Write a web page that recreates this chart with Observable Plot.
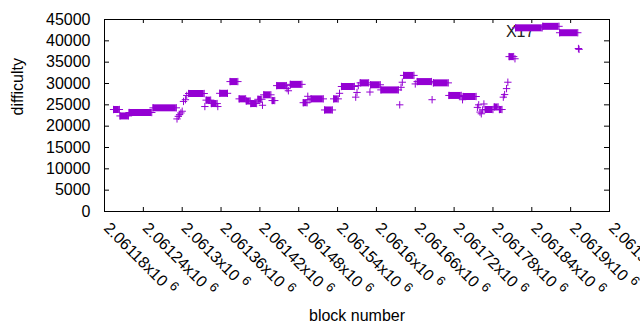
<!DOCTYPE html>
<html><head><meta charset="utf-8">
<script src="https://cdn.jsdelivr.net/npm/d3@7"></script>
<script src="https://cdn.jsdelivr.net/npm/@observablehq/plot@0.6"></script>
<style>
html,body{margin:0;padding:0;background:#fff;}
</style></head><body><div id="chart"></div>
<script>
// Runs of consecutive blocks with the same difficulty
const runStart = [2061194,2061204,2061218,2061255,2061310,2061337,2061345,2061358,2061374,2061388,2061399,2061406,2061417,2061426,2061439,2061446,2061467,2061487,2061499,2061520,2061534,2061546,2061575,2061591,2061607,2061642,2061663,2061688,2061712,2061734,2061768,2061782,2061790,2061805,2061815,2061857,2061883];
const runEnd   = [2061203,2061217,2061253,2061291,2061334,2061344,2061354,2061370,2061386,2061398,2061405,2061415,2061423,2061437,2061443,2061461,2061485,2061493,2061518,2061532,2061541,2061566,2061588,2061606,2061634,2061658,2061685,2061711,2061731,2061754,2061780,2061788,2061794,2061812,2061856,2061882,2061911];
const runDiff  = [23900,22400,23200,24300,27650,26100,25300,27700,30450,26400,25900,25300,26300,27350,26000,29500,29800,25500,26400,23800,26400,29300,30150,29700,28500,31900,30450,30150,27200,26950,23900,24500,23900,36300,43050,43400,41900];
// Single blocks
const ptBlock = [2061292,2061294,2061296,2061298,2061300,2061302,2061305,2061307,2061335,2061355,2061424,2061462,2061464,2061494,2061496,2061543,2061568,2061570,2061572,2061590,2061636,2061638,2061640,2061660,2061686,2061733,2061756,2061758,2061760,2061762,2061764,2061766,2061796,2061798,2061801,2061803,2061814,2061912,2061913];
const ptDiff  = [21700,22300,22700,23100,23500,25800,26200,27200,24600,24600,24900,28800,28300,27000,26200,27700,26800,27900,29500,28000,25000,29100,30300,29900,26200,26200,24400,25000,23300,22900,23800,25200,26800,27400,28800,30300,35800,38200,38000];
// Axes
const xTicks = [2061180,2061240,2061300,2061360,2061420,2061480,2061540,2061600,2061660,2061720,2061780,2061840,2061900,2061960];
const xTickLabels = ["2.06118x10^6","2.06124x10^6","2.0613x10^6","2.06136x10^6","2.06142x10^6","2.06148x10^6","2.06154x10^6","2.0616x10^6","2.06166x10^6","2.06172x10^6","2.06178x10^6","2.06184x10^6","2.0619x10^6","2.06196x10^6"];
const yTicks = [0,5000,10000,15000,20000,25000,30000,35000,40000,45000];
const yTickLabels = ["0","5000","10000","15000","20000","25000","30000","35000","40000","45000"];
const xTitle = "block number";
const yTitle = "difficulty";
const noteText = ["X17"];
const noteBlock = [2061800];
const noteDiff = [42000];

const color = "#9400d3";
const runs = runStart.map((s, i) => ({s, e: runEnd[i], d: runDiff[i]}));
const ends = runs.flatMap(r => [{b: r.s, d: r.d}, {b: r.e, d: r.d}]);
const pts = ptBlock.map((b, i) => ({b, d: ptDiff[i]}));
const notes = noteText.map((t, i) => ({t, b: noteBlock[i], d: noteDiff[i]}));

const innerW = 640 - 104 - 31, innerH = 330 - 19 - 119;

const svg = Plot.plot({
  width: 640, height: 330,
  marginLeft: 104, marginRight: 31, marginTop: 19, marginBottom: 119,
  x: {domain: [2061180, 2061960], axis: null},
  y: {domain: [0, 45000], axis: null},
  style: {fontFamily: "'Liberation Sans', Arial, sans-serif", fontSize: "16px", color: "black", background: "white", overflow: "hidden"},
  marks: [
    Plot.text(notes, {x: "b", y: "d", text: "t", textAnchor: "start", fill: "#222", fontSize: 16}),
    Plot.ruleY(runs, {x1: "s", x2: "e", y: "d", stroke: color, strokeWidth: 7}),
    Plot.dot(ends, {x: "b", y: "d", symbol: "plus", r: 2.5, stroke: color, strokeWidth: 1}),
    Plot.dot(pts, {x: "b", y: "d", symbol: "plus", r: 2.5, stroke: color, strokeWidth: 1}),
    Plot.frame({stroke: "black"}),
    Plot.ruleY(yTicks, {y: d => d, insetRight: innerW - 5, stroke: "black"}),
    Plot.ruleY(yTicks, {y: d => d, insetLeft: innerW - 5, stroke: "black"}),
    Plot.ruleX(xTicks, {x: d => d, insetTop: innerH - 4, stroke: "black"}),
    Plot.ruleX(xTicks, {x: d => d, insetBottom: innerH - 4, stroke: "black"}),
    Plot.text(yTicks, {y: d => d, text: (d, i) => yTickLabels[i], frameAnchor: "left", textAnchor: "end", dx: -14, fill: "black"}),
    Plot.text(xTicks, {x: d => d, text: (d, i) => xTickLabels[i], frameAnchor: "bottom", rotate: 45, textAnchor: "start", lineAnchor: "middle", dx: 2, dy: 14, fill: "black"}),
    Plot.text([yTitle], {text: d => d, frameAnchor: "left", rotate: -90, lineAnchor: "middle", dx: -87, fill: "black"}),
    Plot.text([xTitle], {text: d => d, frameAnchor: "bottom", lineAnchor: "middle", dy: 104, fill: "black"})
  ]
});

d3.select(svg).selectAll("text").each(function() {
  const s = this.textContent;
  if (s.indexOf("^") < 0) return;
  const parts = s.split("^");
  const t = d3.select(this);
  t.text(parts[0]);
  t.append("tspan").attr("dx", 5).attr("dy", "-0.45em").attr("font-size", 13).text(parts[1]);
});

document.getElementById("chart").appendChild(svg);
</script>
</body></html>
